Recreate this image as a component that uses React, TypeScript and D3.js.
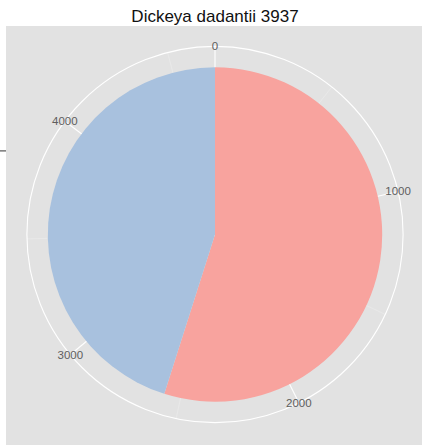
import React from 'react';
import * as d3 from 'd3';

const title = 'Dickeya dadantii 3937';
const categories = ['yes', 'no'];
const values = [2575, 2115];
const sliceColors = ['#F8A39E', '#A8C1DE'];
const majorBreaks = [0, 1000, 2000, 3000, 4000];
const minorBreaks = [500, 1500, 2500, 3500, 4500];

const W = 422;
const H = 445;
const panelLeft = 6;
const panelTop = 26;
const panelSize = 418;

export default function App() {
  const cx = panelLeft + panelSize / 2;
  const cy = panelTop + panelSize / 2 - 0.5;
  const total = d3.sum(values);
  const theta = d3.scaleLinear().domain([0, total]).range([0, 2 * Math.PI]);
  const r = d3.scaleLinear().domain([0.5, 1.5]).range([0, 0.4 * panelSize]);
  const outerR = 0.45 * panelSize;

  const cum: number[] = [];
  values.reduce((acc, v) => {
    cum.push(acc);
    return acc + v;
  }, 0);

  const arc = d3.arc<any>();
  const pt = (v: number, rad: number): [number, number] => {
    const a = theta(v);
    return [cx + rad * Math.sin(a), cy - rad * Math.cos(a)];
  };

  return (
    <svg width={W} height={H} style={{ position: 'absolute', left: 0, top: 0 }}>
      <rect x={panelLeft} y={panelTop} width={W - panelLeft} height={H - panelTop} fill="#E2E2E2" />
      {minorBreaks.map((b) => {
        const [x, y] = pt(b, outerR);
        return <line key={'mi' + b} x1={cx} y1={cy} x2={x} y2={y} stroke="#EEEEEE" strokeWidth={0.5} />;
      })}
      {majorBreaks.map((b) => {
        const [x, y] = pt(b, outerR);
        return <line key={'ma' + b} x1={cx} y1={cy} x2={x} y2={y} stroke="#FFFFFF" strokeWidth={1.1} />;
      })}
      <circle cx={cx} cy={cy} r={outerR} fill="none" stroke="#FFFFFF" strokeWidth={1.1} />
      <g transform={`translate(${cx},${cy})`}>
        {categories.map((c, i) => (
          <path
            key={c}
            d={arc({
              innerRadius: r(0.5),
              outerRadius: r(1.5),
              startAngle: theta(cum[i]),
              endAngle: theta(cum[i] + values[i]),
            }) as string}
            fill={sliceColors[i]}
          />
        ))}
      </g>
      {majorBreaks.map((b) => {
        const [x, y] = pt(b, outerR);
        return (
          <text
            key={'lb' + b}
            x={x}
            y={y}
            textAnchor="middle"
            dominantBaseline="central"
            fontFamily="Liberation Sans, Arial, sans-serif"
            fontSize={11.5}
            fill="#5E5E5E"
          >
            {b}
          </text>
        );
      })}
      <line x1={0} x2={panelLeft} y1={cy - r(1)} y2={cy - r(1)} stroke="#444" strokeWidth={1.1} />
      <text
        x={cx}
        y={21.5}
        textAnchor="middle"
        fontFamily="Liberation Sans, Arial, sans-serif"
        fontSize={17}
        fill="#111"
      >
        {title}
      </text>
    </svg>
  );
}
